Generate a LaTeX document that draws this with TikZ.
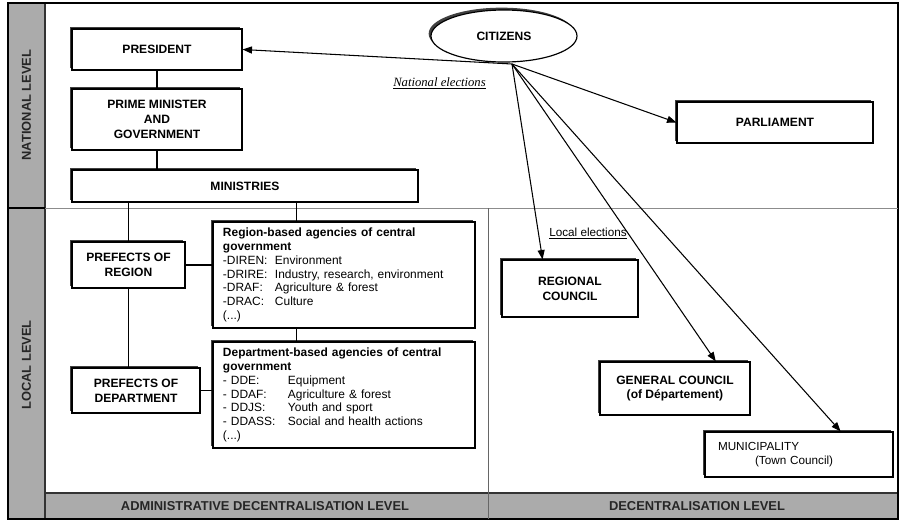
\documentclass[tikz,border=0pt]{standalone}
\usepackage{fontspec}
\setmainfont{Liberation Sans}
\newfontfamily\serifit{Liberation Serif}
\usetikzlibrary{shapes.geometric,shadows,arrows.meta,calc}

\begin{document}
\begin{tikzpicture}[x=0.03cm,y=-0.03cm,
        box/.style={draw=black, line width=1pt, fill=white, align=center, inner sep=2pt,
            font=\fontsize{10.3}{12.6}\selectfont\bfseries,
            drop shadow={shadow xshift=-2pt, shadow yshift=2pt, fill=black!75, opacity=1}},
        agbox/.style={box, font=\fontsize{10.2}{11.8}\selectfont, align=left,
            inner xsep=0.3cm, text width=7.26cm, minimum height=3.18cm},
        band/.style={fill=black!33, draw=black!80, line width=1pt},
        bandtext/.style={font=\fontsize{11}{13}\selectfont\bfseries, text=black!85},
        link/.style={line width=1.2pt},
        vote/.style={line width=0.9pt, -{Triangle[length=8pt,width=6pt]}}]
    \useasboundingbox (0,0) rectangle (901,521);
    % frame and bands
    \draw[band] (8,3) rectangle (45,519);
    \draw[band] (45,493) rectangle (898,519);
    \draw[line width=1.5pt] (8,3) rectangle (898,519);
    \draw[black!45, line width=0.6pt] (45,208) -- (898,208);
    \draw[line width=1pt] (8,208) -- (45,208);
    \draw[black!60, line width=0.8pt] (488,208) -- (488,519);
    \node[bandtext, rotate=90] (natlvl) at (26.5,105) {NATIONAL LEVEL};
    \node[bandtext, rotate=90] (loclvl) at (26.5,365) {LOCAL LEVEL};
    \node[bandtext] (admlvl) at (265,506) {ADMINISTRATIVE DECENTRALISATION LEVEL};
    \node[bandtext] (declvl) at (697,506) {DECENTRALISATION LEVEL};

    % administrative side
    \node[box, minimum width=5.1cm, minimum height=1.23cm] (pres) at (157,49.5) {PRESIDENT};
    \node[box, minimum width=5.1cm, minimum height=1.83cm] (pm) at (157,119.5) {PRIME MINISTER\\AND\\GOVERNMENT};
    \node[box, minimum width=10.38cm, minimum height=0.96cm] (min) at (245,186) {MINISTRIES};
    \node[box, minimum width=3.39cm, minimum height=1.38cm] (preg) at (128.5,265) {PREFECTS OF\\REGION};
    \node[box, minimum width=3.84cm, minimum height=1.35cm] (pdep) at (136,390.5) {PREFECTS OF\\DEPARTMENT};
    \node[agbox] (ragency) at (344,275) {%
        \textbf{Region-based agencies of central}\\
        \textbf{government}\\
        \makebox[1.56cm][l]{-DIREN:}Environment\\
        \makebox[1.56cm][l]{-DRIRE:}Industry, research, environment\\
        \makebox[1.56cm][l]{-DRAF:}Agriculture \& forest\\
        \makebox[1.56cm][l]{-DRAC:}Culture\\
        (...)};
    \node[agbox] (dagency) at (344,395) {%
        \textbf{Department-based agencies of central}\\
        \textbf{government}\\
        \makebox[1.95cm][l]{- DDE:}Equipment\\
        \makebox[1.95cm][l]{- DDAF:}Agriculture \& forest\\
        \makebox[1.95cm][l]{- DDJS:}Youth and sport\\
        \makebox[1.95cm][l]{- DDASS:}Social and health actions\\
        (...)};
    \path ($(ragency.north west)!0.32!(ragency.north east)$) coordinate (rtop);
    \draw[link] (pres) -- (pm);
    \draw[link] (pm.south) -- (pm.south |- min.north);
    \draw[link] (preg.north) -- (preg.north |- min.south);
    \draw[link] (rtop) -- (rtop |- min.south);
    \draw[link] (rtop |- ragency.south) -- (rtop |- dagency.north);
    \draw[link] (preg.east) -- (preg.east -| ragency.west);
    \draw[link] (preg.south) -- (preg.south |- pdep.north);
    \draw[link] (pdep.east) -- (pdep.east -| dagency.west);

    % elected bodies
    \node[box, ellipse, minimum width=4.38cm, minimum height=1.56cm] (cit) at (504,36) {CITIZENS};
    \node[box, minimum width=5.88cm, minimum height=1.23cm] (parl) at (775,122.5) {PARLIAMENT};
    \node[box, minimum width=4.08cm, minimum height=1.71cm] (regc) at (570,288.5) {REGIONAL\\COUNCIL};
    \node[box, minimum width=4.5cm, minimum height=1.59cm] (genc) at (675,388.5) {GENERAL COUNCIL\\(of Département)};
    \node[box, font=\fontsize{10}{12.5}\selectfont, align=left, inner xsep=0.39cm, text width=4.86cm,
        minimum height=1.35cm] (muni) at (799,454.5) {MUNICIPALITY\\\hspace*{1.11cm}(Town Council)};
    \node[font=\serifit\itshape\fontsize{10.8}{12}\selectfont] (natel) at (439.5,83) {\underline{National elections}};
    \node[font=\fontsize{10}{12}\selectfont] (locel) at (588,233) {\underline{Local elections}};

    \coordinate (src) at (512,64);
    \draw[vote] (src) -- (pres.east);
    \draw[vote] (src) -- (parl.west);
    \draw[vote] (src) -- ($(regc.north west)!0.3!(regc.north east)$);
    \draw[vote] (src) -- ($(genc.north west)!0.77!(genc.north east)$);
    \draw[vote] (src) -- ($(muni.north west)!0.72!(muni.north east)$);
\end{tikzpicture}
\end{document}
